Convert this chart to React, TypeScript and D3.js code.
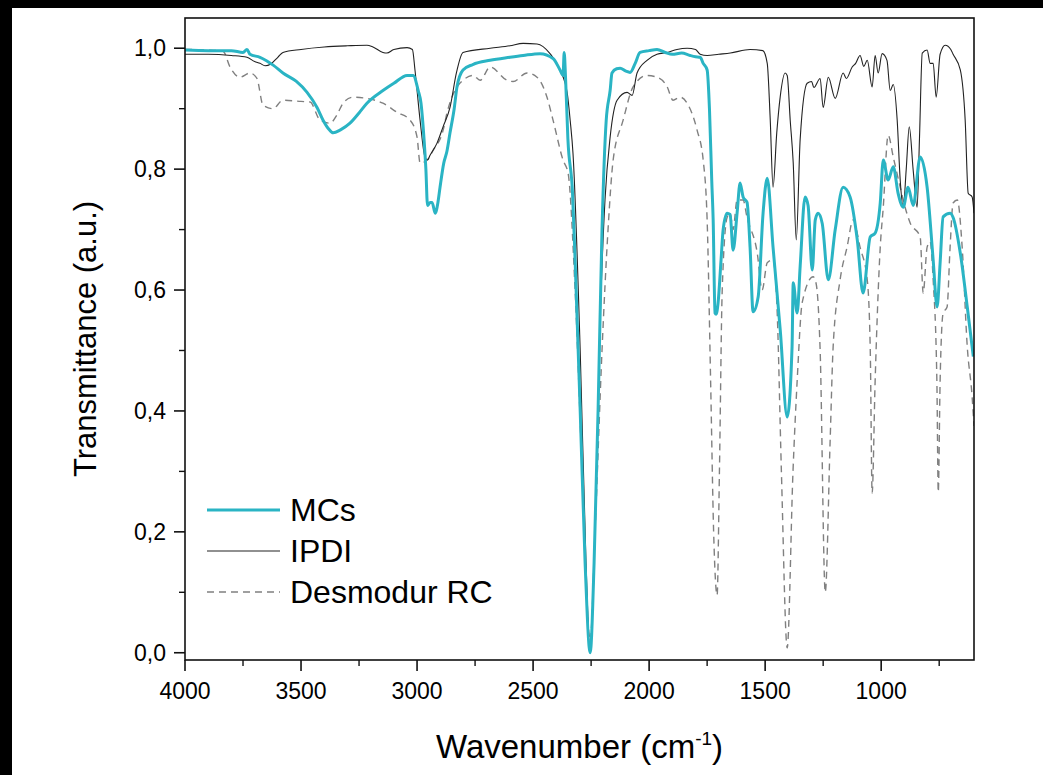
import React, { useRef, useEffect } from 'react';
import * as d3 from 'd3';

const W = 1043;
const H = 775;
const FONT = '"Liberation Sans", Arial, Helvetica, sans-serif';

// plot box (pixels)
const box = { left: 185, right: 974, top: 18, bottom: 660 };

const xTicks = [4000, 3500, 3000, 2500, 2000, 1500, 1000];
const xMinor = [3750, 3250, 2750, 2250, 1750, 1250, 750];
const yTicks = [0, 0.2, 0.4, 0.6, 0.8, 1.0];
const yMinor = [0.1, 0.3, 0.5, 0.7, 0.9];

// [wavenumber, transmittance]
const mcs: [number, number][] = [
  [4000, 0.997], [3900, 0.996], [3800, 0.996], [3750, 0.993], [3733, 0.998], [3720, 0.99],
  [3677, 0.985], [3620, 0.972], [3578, 0.959], [3520, 0.945], [3474, 0.927], [3431, 0.902],
  [3405, 0.881], [3380, 0.866], [3362, 0.86], [3330, 0.865], [3289, 0.876], [3250, 0.893],
  [3216, 0.909], [3147, 0.93], [3100, 0.942], [3043, 0.955], [3017, 0.955], [2995, 0.93],
  [2983, 0.909], [2970, 0.85], [2962, 0.8], [2955, 0.74], [2943, 0.745], [2935, 0.745],
  [2922, 0.727], [2910, 0.745], [2901, 0.77], [2885, 0.81], [2871, 0.83], [2858, 0.86],
  [2840, 0.9], [2828, 0.936], [2802, 0.964], [2760, 0.973], [2685, 0.98], [2600, 0.985],
  [2543, 0.988], [2470, 0.991], [2414, 0.983], [2384, 0.964], [2371, 0.955], [2366, 0.993],
  [2360, 0.95], [2350, 0.85], [2330, 0.76], [2319, 0.65], [2297, 0.4], [2276, 0.15],
  [2254, 0.0], [2237, 0.15], [2220, 0.4], [2203, 0.7], [2185, 0.88], [2168, 0.93],
  [2160, 0.959], [2140, 0.966], [2125, 0.967], [2100, 0.962], [2082, 0.96], [2060, 0.975],
  [2039, 0.993], [2000, 0.996], [1966, 0.998], [1930, 0.993], [1900, 0.99], [1860, 0.992],
  [1823, 0.988], [1800, 0.986], [1780, 0.985], [1767, 0.975], [1750, 0.964], [1740, 0.9],
  [1730, 0.78], [1724, 0.716], [1716, 0.562], [1711, 0.56], [1703, 0.578], [1690, 0.65],
  [1681, 0.7], [1664, 0.727], [1651, 0.725], [1638, 0.666], [1621, 0.727], [1608, 0.777],
  [1595, 0.754], [1578, 0.745], [1565, 0.671], [1552, 0.564], [1530, 0.589], [1509, 0.727],
  [1491, 0.785], [1466, 0.671], [1435, 0.534], [1405, 0.39], [1384, 0.506], [1379, 0.612],
  [1362, 0.562], [1349, 0.64], [1328, 0.754], [1315, 0.74], [1297, 0.633], [1284, 0.716],
  [1272, 0.727], [1254, 0.71], [1228, 0.617], [1198, 0.7], [1164, 0.77], [1134, 0.754],
  [1103, 0.683], [1078, 0.595], [1047, 0.688], [1026, 0.694], [1004, 0.744], [991, 0.815],
  [970, 0.782], [948, 0.804], [927, 0.76], [905, 0.737], [884, 0.77], [862, 0.74],
  [832, 0.82], [802, 0.77], [776, 0.65], [759, 0.572], [746, 0.645], [733, 0.721],
  [703, 0.727], [690, 0.72], [659, 0.661], [629, 0.572], [603, 0.49],
];

const ipdi: [number, number][] = [
  [4000, 0.99], [3900, 0.99], [3800, 0.988], [3733, 0.985], [3700, 0.978], [3677, 0.975],
  [3655, 0.971], [3630, 0.974], [3600, 0.985], [3578, 0.993], [3500, 0.998], [3400, 1.002],
  [3300, 1.004], [3216, 1.005], [3190, 1.002], [3147, 0.993], [3130, 0.992], [3100, 0.998],
  [3043, 1.001], [3020, 0.998], [3009, 0.964], [2987, 0.881], [2966, 0.82], [2955, 0.815],
  [2944, 0.823], [2914, 0.843], [2888, 0.87], [2858, 0.902], [2830, 0.96], [2802, 0.993],
  [2685, 1.0], [2600, 1.004], [2543, 1.008], [2483, 1.007], [2427, 0.991], [2384, 0.964],
  [2353, 0.926], [2340, 0.88], [2328, 0.826], [2297, 0.5], [2272, 0.15], [2254, 0.0],
  [2233, 0.2], [2211, 0.55], [2190, 0.75], [2168, 0.853], [2138, 0.914], [2095, 0.927],
  [2073, 0.922], [2052, 0.959], [2009, 0.98], [1966, 0.99], [1922, 0.993], [1880, 0.998],
  [1836, 1.0], [1800, 0.998], [1780, 0.99], [1750, 0.988], [1700, 0.99], [1650, 0.992],
  [1565, 0.998], [1510, 0.996], [1491, 0.975], [1478, 0.881], [1466, 0.77], [1450, 0.86],
  [1435, 0.92], [1414, 0.959], [1405, 0.955], [1392, 0.881], [1379, 0.81], [1366, 0.683],
  [1349, 0.85], [1319, 0.942], [1300, 0.945], [1290, 0.935], [1263, 0.95], [1250, 0.902],
  [1228, 0.952], [1198, 0.917], [1164, 0.959], [1150, 0.95], [1125, 0.969], [1110, 0.975],
  [1091, 0.988], [1075, 0.97], [1060, 0.98], [1039, 0.936], [1026, 0.988], [1013, 0.959],
  [996, 0.991], [975, 0.98], [961, 0.93], [948, 0.94], [931, 0.881], [918, 0.782],
  [905, 0.737], [892, 0.8], [879, 0.87], [862, 0.798], [845, 0.737], [835, 0.85],
  [823, 0.992], [802, 0.997], [789, 0.975], [776, 0.975], [763, 0.919], [746, 0.99],
  [724, 1.005], [700, 0.998], [690, 0.99], [659, 0.964], [638, 0.881], [625, 0.76],
  [608, 0.754], [600, 0.727],
];

const desmodur: [number, number][] = [
  [4000, 0.998], [3900, 0.997], [3836, 0.995], [3806, 0.969], [3763, 0.952], [3720, 0.959],
  [3690, 0.95], [3664, 0.906], [3621, 0.9], [3578, 0.914], [3500, 0.912], [3461, 0.911],
  [3418, 0.881], [3375, 0.876], [3345, 0.89], [3319, 0.909], [3276, 0.919], [3216, 0.917],
  [3147, 0.909], [3086, 0.894], [3030, 0.881], [3000, 0.853], [2987, 0.81], [2957, 0.815],
  [2931, 0.831], [2888, 0.864], [2871, 0.893], [2828, 0.936], [2802, 0.947], [2759, 0.955],
  [2728, 0.947], [2685, 0.969], [2612, 0.947], [2586, 0.945], [2526, 0.959], [2483, 0.952],
  [2440, 0.919], [2414, 0.881], [2371, 0.815], [2349, 0.793], [2319, 0.6], [2289, 0.3],
  [2263, 0.05], [2254, 0.02], [2233, 0.2], [2203, 0.5], [2177, 0.7], [2155, 0.815],
  [2112, 0.881], [2069, 0.936], [2009, 0.955], [1966, 0.952], [1922, 0.936], [1897, 0.914],
  [1866, 0.919], [1836, 0.909], [1793, 0.864], [1767, 0.815], [1750, 0.716], [1735, 0.45],
  [1722, 0.2], [1707, 0.095], [1697, 0.3], [1685, 0.6], [1664, 0.72], [1651, 0.727],
  [1638, 0.7], [1621, 0.749], [1595, 0.749], [1578, 0.72], [1534, 0.661], [1513, 0.6],
  [1491, 0.645], [1466, 0.65], [1448, 0.562], [1430, 0.3], [1405, 0.008], [1380, 0.3],
  [1362, 0.45], [1340, 0.58], [1293, 0.622], [1280, 0.61], [1263, 0.5], [1241, 0.1],
  [1220, 0.35], [1207, 0.506], [1177, 0.617], [1147, 0.671], [1121, 0.716], [1091, 0.671],
  [1060, 0.617], [1047, 0.5], [1039, 0.264], [1026, 0.45], [1004, 0.671], [991, 0.737],
  [970, 0.856], [948, 0.82], [918, 0.77], [897, 0.737], [875, 0.711], [832, 0.688],
  [819, 0.595], [802, 0.671], [789, 0.68], [776, 0.617], [760, 0.45], [754, 0.266],
  [746, 0.45], [733, 0.562], [716, 0.572], [703, 0.671], [690, 0.744], [672, 0.749],
  [651, 0.671], [629, 0.506], [608, 0.423], [600, 0.375],
];

const series = [
  { name: 'MCs', data: mcs, color: '#2ab4c4', width: 3, dash: null },
  { name: 'IPDI', data: ipdi, color: '#222', width: 1.1, dash: null },
  { name: 'Desmodur RC', data: desmodur, color: '#808080', width: 1.4, dash: '7,5' },
];

const fmt = (v: number) => v.toFixed(1).replace('.', ',');

const App = () => {
  const svgRef = useRef<SVGSVGElement>(null);

  useEffect(() => {
    const svg = d3.select(svgRef.current);
    svg.selectAll('*').remove();

    const x = d3.scaleLinear().domain([4000, 600]).range([box.left, box.right]);
    const y = d3.scaleLinear().domain([-0.012, 1.05]).range([box.bottom, box.top]);

    svg.append('rect').attr('width', W).attr('height', H).attr('fill', 'white');
    // dark border of the original screenshot
    svg.append('rect').attr('width', W).attr('height', 8).attr('fill', 'black');
    svg.append('rect').attr('width', 12).attr('height', H).attr('fill', 'black');

    svg.append('defs').append('clipPath').attr('id', 'plotclip')
      .append('rect')
      .attr('x', box.left).attr('y', box.top)
      .attr('width', box.right - box.left).attr('height', box.bottom - box.top);

    const line = d3.line<[number, number]>()
      .x(d => x(d[0]))
      .y(d => y(d[1]))
      .curve(d3.curveMonotoneX);

    const plot = svg.append('g').attr('clip-path', 'url(#plotclip)');
    // draw dashed first, then IPDI, MCs on top
    [series[2], series[1], series[0]].forEach(s => {
      plot.append('path')
        .attr('d', line(s.data))
        .attr('fill', 'none')
        .attr('stroke', s.color)
        .attr('stroke-width', s.width)
        .attr('stroke-dasharray', s.dash)
        .attr('stroke-linejoin', 'round');
    });

    // frame
    svg.append('rect')
      .attr('x', box.left).attr('y', box.top)
      .attr('width', box.right - box.left).attr('height', box.bottom - box.top)
      .attr('fill', 'none').attr('stroke', '#111').attr('stroke-width', 1.6);

    // x ticks
    xTicks.forEach(t => {
      svg.append('line').attr('x1', x(t)).attr('x2', x(t))
        .attr('y1', box.bottom).attr('y2', box.bottom + 11)
        .attr('stroke', '#111').attr('stroke-width', 1.6);
      svg.append('text').attr('x', x(t)).attr('y', 699)
        .attr('text-anchor', 'middle').attr('font-family', FONT).attr('font-size', 23)
        .text(t);
    });
    xMinor.forEach(t => {
      svg.append('line').attr('x1', x(t)).attr('x2', x(t))
        .attr('y1', box.bottom).attr('y2', box.bottom + 6)
        .attr('stroke', '#111').attr('stroke-width', 1.4);
    });

    // y ticks
    yTicks.forEach(t => {
      svg.append('line').attr('x1', box.left - 11).attr('x2', box.left)
        .attr('y1', y(t)).attr('y2', y(t))
        .attr('stroke', '#111').attr('stroke-width', 1.6);
      svg.append('text').attr('x', box.left - 19).attr('y', y(t) + 8)
        .attr('text-anchor', 'end').attr('font-family', FONT).attr('font-size', 23)
        .text(fmt(t));
    });
    yMinor.forEach(t => {
      svg.append('line').attr('x1', box.left - 6).attr('x2', box.left)
        .attr('y1', y(t)).attr('y2', y(t))
        .attr('stroke', '#111').attr('stroke-width', 1.4);
    });

    // axis titles
    svg.append('text')
      .attr('transform', `translate(96,${(box.top + box.bottom) / 2}) rotate(-90)`)
      .attr('text-anchor', 'middle').attr('font-family', FONT).attr('font-size', 31)
      .text('Transmittance (a.u.)');

    const xt = svg.append('text')
      .attr('x', (box.left + box.right) / 2).attr('y', 758)
      .attr('text-anchor', 'middle').attr('font-family', FONT).attr('font-size', 33);
    xt.append('tspan').text('Wavenumber (cm');
    xt.append('tspan').attr('font-size', 19).attr('dy', -13).text('-1');
    xt.append('tspan').attr('dy', 13).text(')');

    // legend
    series.forEach((s, i) => {
      const ly = 510 + i * 41;
      svg.append('line').attr('x1', 207).attr('x2', 280).attr('y1', ly).attr('y2', ly)
        .attr('stroke', s.color).attr('stroke-width', s.width)
        .attr('stroke-dasharray', s.dash);
      svg.append('text').attr('x', 290).attr('y', ly + 11)
        .attr('font-family', FONT).attr('font-size', 32)
        .text(s.name);
    });
  }, []);

  return (
    <div style={{ position: 'absolute', left: 0, top: 0 }}>
      <svg ref={svgRef} width={W} height={H} style={{ display: 'block' }} />
    </div>
  );
};

export default App;
